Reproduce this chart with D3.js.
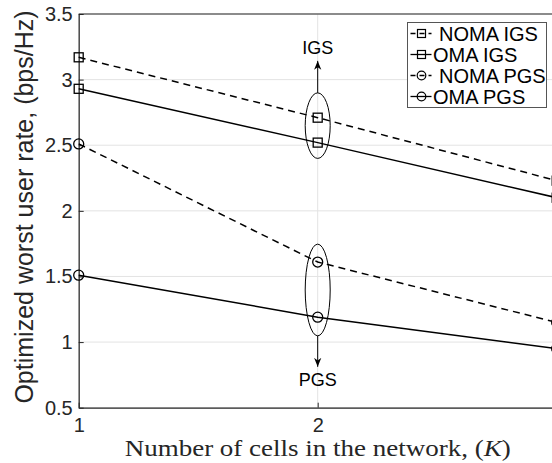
<!DOCTYPE html>
<html><head><meta charset="utf-8">
<script src="https://cdn.jsdelivr.net/npm/d3@7"></script>
<style>html,body{margin:0;padding:0;background:#fff;overflow:hidden}</style>
</head><body>
<script>
const kValues = [1, 2, 3];
const xTicks = [1, 2, 3];
const yTicks = [0.5, 1, 1.5, 2, 2.5, 3, 3.5];
const nomaIGS = [3.17, 2.71, 2.23];
const omaIGS  = [2.93, 2.52, 2.10];
const nomaPGS = [2.51, 1.61, 1.15];
const omaPGS  = [1.51, 1.19, 0.95];
const seriesNames = ["NOMA IGS", "OMA IGS", "NOMA PGS", "OMA PGS"];
const xLabel = "Number of cells in the network, ";
const yLabel = "Optimized worst user rate, (bps/Hz)";

const W = 552, H = 463;
const m = {left: 78.7, top: 14, right: -4.7, bottom: 55.3};
const svg = d3.select("body").append("svg").attr("width", W).attr("height", H);
const x = d3.scaleLinear().domain([1, 3]).range([m.left, W - m.right]);
const y = d3.scaleLinear().domain([0.5, 3.5]).range([H - m.bottom, m.top]);
const sans = "'Liberation Sans', Arial, Helvetica, sans-serif";

// grid
const g = svg.append("g");
g.selectAll("line.gy").data(yTicks).join("line")
  .attr("x1", x(1)).attr("x2", x(3)).attr("y1", d => y(d)).attr("y2", d => y(d))
  .attr("stroke", "#e3e3e3").attr("stroke-width", 1);
g.selectAll("line.gx").data(xTicks).join("line")
  .attr("y1", y(0.5)).attr("y2", y(3.5)).attr("x1", d => x(d)).attr("x2", d => x(d))
  .attr("stroke", "#e3e3e3").attr("stroke-width", 1);

// axes
const axCol = "#262626";
const yAxis = svg.append("g").attr("transform", `translate(${x(1)},0)`)
  .call(d3.axisLeft(y).tickValues(yTicks).tickSizeInner(-5).tickSizeOuter(0).tickPadding(6).tickFormat(d3.format("~g")));
const xAxis = svg.append("g").attr("transform", `translate(0,${y(0.5)})`)
  .call(d3.axisBottom(x).tickValues(xTicks).tickSizeInner(-5).tickSizeOuter(0).tickPadding(10).tickFormat(d3.format("d")));
[yAxis, xAxis].forEach(a => {
  a.select(".domain").attr("stroke", axCol).attr("stroke-width", 1.2);
  a.selectAll(".tick line").attr("stroke", axCol);
  a.selectAll("text").attr("font-family", sans).attr("font-size", 20).attr("fill", "#262626");
});
xAxis.selectAll("text").attr("dy", "0.71em");
// top/right border
svg.append("line").attr("x1", x(1)).attr("x2", x(3)).attr("y1", y(3.5)).attr("y2", y(3.5))
  .attr("stroke", axCol).attr("stroke-width", 1.2);
svg.append("line").attr("x1", x(3)).attr("x2", x(3)).attr("y1", y(3.5)).attr("y2", y(0.5))
  .attr("stroke", axCol).attr("stroke-width", 1.2);

// series
const series = [
  {name: seriesNames[0], vals: nomaIGS, dash: "7,5", marker: "square"},
  {name: seriesNames[1], vals: omaIGS, dash: null, marker: "square"},
  {name: seriesNames[2], vals: nomaPGS, dash: "7,5", marker: "circle"},
  {name: seriesNames[3], vals: omaPGS, dash: null, marker: "circle"},
];
const line = d3.line().x((d, i) => x(kValues[i])).y(d => y(d));
function drawMarker(sel, type, cx, cy) {
  if (type === "square") {
    sel.append("rect").attr("x", cx - 4.5).attr("y", cy - 4.5).attr("width", 9).attr("height", 9)
      .attr("fill", "none").attr("stroke", "#000").attr("stroke-width", 1.3);
  } else {
    sel.append("circle").attr("cx", cx).attr("cy", cy).attr("r", 5)
      .attr("fill", "none").attr("stroke", "#000").attr("stroke-width", 1.3);
  }
}
series.forEach(s => {
  svg.append("path").datum(s.vals).attr("d", line).attr("fill", "none")
    .attr("stroke", "#000").attr("stroke-width", 1.5).attr("stroke-dasharray", s.dash);
  const mg = svg.append("g");
  s.vals.forEach((v, i) => drawMarker(mg, s.marker, x(kValues[i]), y(v)));
});

// annotations
const defs = svg.append("defs");
defs.append("marker").attr("id", "arr").attr("viewBox", "0 0 10 10").attr("refX", 10).attr("refY", 5)
  .attr("markerWidth", 9).attr("markerHeight", 9).attr("orient", "auto-start-reverse")
  .attr("markerUnits", "userSpaceOnUse")
  .append("path").attr("d", "M0,1 L10,5 L0,9 L3,5 Z").attr("fill", "#000");
function ellipseGroup(vals, label, up, shift, pad, arrowLen, textGap) {
  const cy = (y(vals[0]) + y(vals[1])) / 2 + shift;
  const ry = Math.abs(y(vals[0]) - y(vals[1])) / 2 + pad;
  const cx = x(2);
  svg.append("ellipse").attr("cx", cx).attr("cy", cy).attr("rx", 12.5).attr("ry", ry)
    .attr("fill", "none").attr("stroke", "#000").attr("stroke-width", 1);
  const y0 = up ? cy - ry : cy + ry;
  const y1 = up ? y0 - arrowLen : y0 + arrowLen;
  svg.append("line").attr("x1", cx).attr("x2", cx).attr("y1", y0).attr("y2", y1)
    .attr("stroke", "#000").attr("stroke-width", 1).attr("marker-end", "url(#arr)");
  svg.append("text").attr("x", cx).attr("y", up ? y1 - textGap : y1 + textGap).attr("text-anchor", "middle")
    .attr("font-family", sans).attr("font-size", 18).attr("fill", "#000").text(label);
}
ellipseGroup([nomaIGS[1], omaIGS[1]], "IGS", true, -4.5, 20.3, 32, 6.5);
ellipseGroup([nomaPGS[1], omaPGS[1]], "PGS", false, 0.4, 18.3, 31, 19.5);

// legend
const lg = svg.append("g").attr("transform", "translate(407.5,22.5)");
lg.append("rect").attr("width", 139).attr("height", 85).attr("fill", "#fff")
  .attr("stroke", "#555").attr("stroke-width", 1);
series.forEach((s, i) => {
  const cy = 11 + i * 21;
  const r = lg.append("g");
  r.append("line").attr("x1", 3).attr("x2", 24).attr("y1", cy).attr("y2", cy)
    .attr("stroke", "#000").attr("stroke-width", 1.3).attr("stroke-dasharray", s.dash ? "5,4" : null);
  if (s.marker === "square") {
    r.append("rect").attr("x", 10).attr("y", cy - 4).attr("width", 8).attr("height", 8)
      .attr("fill", "none").attr("stroke", "#000").attr("stroke-width", 1.2);
  } else {
    r.append("circle").attr("cx", 14).attr("cy", cy).attr("r", 4.3)
      .attr("fill", "none").attr("stroke", "#000").attr("stroke-width", 1.2);
  }
  r.append("text").attr("x", s.dash ? 31.5 : 25.5).attr("y", cy).attr("dy", "0.36em")
    .attr("font-family", sans).attr("font-size", 20).attr("fill", "#000").text(s.name);
});

// axis titles
svg.append("text").attr("transform", `translate(33,207) rotate(-90)`)
  .attr("text-anchor", "middle").attr("font-family", sans).attr("font-size", 25)
  .attr("fill", "#262626").text(yLabel);
const xt = svg.append("text").attr("x", x(2)).attr("y", 455.7).attr("text-anchor", "middle")
  .attr("textLength", 386).attr("lengthAdjust", "spacingAndGlyphs")
  .attr("font-family", "'Liberation Serif', 'Times New Roman', serif").attr("font-size", 23).attr("fill", "#262626");
xt.append("tspan").text(xLabel);
xt.append("tspan").text("(");
xt.append("tspan").attr("font-style", "italic").text("K");
xt.append("tspan").text(")");
</script>
</body></html>
